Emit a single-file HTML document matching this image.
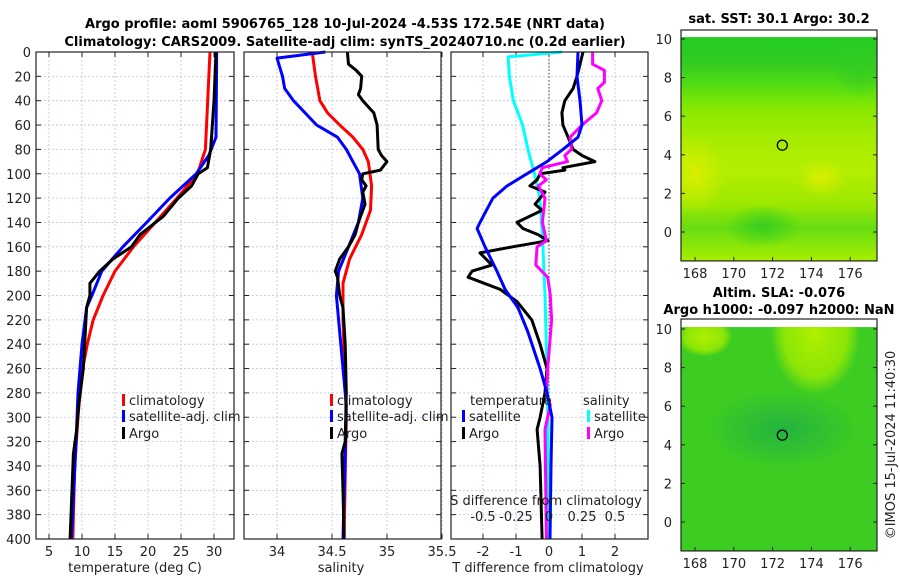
<!DOCTYPE html>
<html><head><meta charset="utf-8"><style>
html,body{margin:0;padding:0;background:#fff;}
svg{display:block;font-family:"DejaVu Sans","Liberation Sans",sans-serif;}
.t{font-size:13px;fill:#222;}
.b{font-size:13px;font-weight:bold;fill:#000;}
</style></head><body>
<svg id="c" width="900" height="580" viewBox="0 0 900 580" xmlns="http://www.w3.org/2000/svg">
<defs>
<linearGradient id="gTop" x1="0" y1="0" x2="0" y2="1">
<stop offset="0" stop-color="#22cc22"/><stop offset="0.12" stop-color="#33cc22"/><stop offset="0.22" stop-color="#55dd11"/>
<stop offset="0.32" stop-color="#88e800"/><stop offset="0.45" stop-color="#a6ec00"/><stop offset="0.6" stop-color="#b4ee00"/>
<stop offset="0.75" stop-color="#9ce800"/><stop offset="0.85" stop-color="#66dd11"/><stop offset="1" stop-color="#a8ee00"/>
</linearGradient>
<radialGradient id="gYel" cx="0.5" cy="0.5" r="0.5"><stop offset="0" stop-color="#ddee00" stop-opacity="0.9"/><stop offset="1" stop-color="#ddee00" stop-opacity="0"/></radialGradient>
<radialGradient id="gGrn" cx="0.5" cy="0.5" r="0.5"><stop offset="0" stop-color="#33cc22" stop-opacity="0.9"/><stop offset="1" stop-color="#33cc22" stop-opacity="0"/></radialGradient>
<radialGradient id="gDk" cx="0.5" cy="0.5" r="0.5"><stop offset="0" stop-color="#22b044" stop-opacity="0.9"/><stop offset="1" stop-color="#22b044" stop-opacity="0"/></radialGradient>
<radialGradient id="gLt" cx="0.5" cy="0.5" r="0.5"><stop offset="0" stop-color="#b0f000" stop-opacity="1"/><stop offset="0.7" stop-color="#a0ec00" stop-opacity="0.8"/><stop offset="1" stop-color="#a0ec00" stop-opacity="0"/></radialGradient>
<clipPath id="clipTop"><rect x="681" y="37" width="196" height="224"/></clipPath>
<clipPath id="clipBot"><rect x="681" y="327" width="196" height="224"/></clipPath>
</defs>
<g id="root"></g>
</svg>
<script>
// ---------- data ----------
const depthClim = [0,80,100,120,140,160,180,200,220,240,260,280,300,340,400];
const tempClim  = [29.4,28.7,27.5,24.4,21.1,17.8,15,13.2,11.7,10.8,10.1,9.7,9.4,8.9,8.6];
const depthSat  = [0,10,70,85,100,120,140,160,180,200,210,240,280,320,400];
const tempSat   = [30.4,30.4,30.3,29.2,27.3,23.3,19.8,16.2,13,11.5,10.7,10,9.4,9.1,8.4];
const depthArgoT= [0,40,80,95,100,110,120,135,150,160,170,180,190,200,210,230,260,290,310,330,400];
const tempArgo  = [30.3,30,29.5,29,27.6,26.6,24.6,22.3,18.8,17.5,14.7,12.7,11.2,11.2,10.7,10.5,10.2,9.5,9.2,8.7,8.2];

const depthSClim= [0,20,40,50,60,70,80,90,110,130,150,170,190,220,300,400];
const salClim   = [34.32,34.35,34.39,34.46,34.57,34.69,34.78,34.83,34.86,34.85,34.77,34.66,34.6,34.6,34.63,34.61];
const depthSSat = [0,5,20,30,40,60,70,80,100,120,140,160,180,200,210,230,260,290,400];
const salSat    = [34.44,34.0,34.05,34.07,34.15,34.36,34.55,34.63,34.75,34.78,34.74,34.65,34.56,34.54,34.55,34.57,34.6,34.63,34.6];
const depthSArgo= [0,10,15,20,30,35,40,50,60,80,85,90,97,100,105,110,115,125,140,150,160,170,180,185,200,210,240,280,320,330,360,400];
const salArgo   = [34.64,34.65,34.72,34.77,34.76,34.74,34.78,34.88,34.91,34.92,34.95,35.0,34.94,34.78,34.77,34.81,34.78,34.8,34.74,34.71,34.65,34.57,34.53,34.55,34.57,34.6,34.62,34.63,34.62,34.59,34.6,34.61];

const depthDS   = [0,4,20,40,60,80,100,120,150,200,260,300,400];
const sDiffSat  = [0.1,-0.31,-0.3,-0.27,-0.2,-0.16,-0.11,-0.07,-0.05,-0.03,-0.015,-0.008,-0.008];
const depthDSA  = [0,10,15,25,30,40,50,60,70,80,85,90,95,100,105,110,120,140,155,160,175,185,200,220,260,280,290,310,400];
const sDiffArgo = [0.33,0.33,0.42,0.42,0.37,0.4,0.36,0.25,0.16,0.17,0.12,0.14,-0.05,-0.07,-0.02,-0.08,-0.03,-0.05,-0.02,-0.09,-0.1,-0.01,0.01,0.02,-0.01,-0.02,0.01,-0.03,-0.02];
const depthDT   = [0,20,40,60,70,80,90,100,110,120,140,145,160,180,195,210,230,260,280,300,340,400];
const tDiffSat  = [0.88,0.85,0.94,1.0,0.88,0.42,-0.06,-0.67,-1.27,-1.7,-2.09,-2.18,-1.94,-1.58,-1.33,-0.94,-0.64,-0.27,-0.06,0.09,0.06,0.03];
const depthDTA  = [0,10,20,30,40,50,60,70,80,85,90,95,97,100,105,110,115,125,130,140,145,150,155,160,165,175,180,185,195,205,220,240,260,280,300,310,340,400];
const tDiffArgo = [1.03,0.94,0.85,0.73,0.48,0.39,0.42,0.58,0.73,1.0,1.39,0.42,0.48,-0.27,-0.36,-0.58,-0.12,-0.42,-0.21,-0.97,-0.79,-0.33,-0.03,-1.1,-2.09,-1.73,-2.33,-2.45,-1.48,-0.97,-0.52,-0.27,-0.06,-0.12,-0.27,-0.36,-0.27,-0.21];

const depthTicks = [0,20,40,60,80,100,120,140,160,180,200,220,240,260,280,300,320,340,360,380,400];
const tempTicks = [5,10,15,20,25,30];
const salTicks = [34,34.5,35,35.5];
const tdTicks = [-2,-1,0,1,2];
const sdTicks = [-0.5,-0.25,0,0.25,0.5];
const lonTicks = [168,170,172,174,176];
const latTicks = [0,2,4,6,8,10];
const argoLon = 172.5, argoLat = 4.5;

// ---------- helpers ----------
const NS="http://www.w3.org/2000/svg";
const root=document.getElementById('root');
function mk(tag,attrs,parent){const e=document.createElementNS(NS,tag);for(const k in attrs)e.setAttribute(k,attrs[k]);(parent||root).appendChild(e);return e;}
function txt(s,x,y,cls,anchor,parent){const e=mk('text',{x:x,y:y,class:cls,'text-anchor':anchor||'middle'},parent);e.textContent=s;return e;}

const Y0=52, Y1=539;
const yD = d => Y0 + (d/400)*(Y1-Y0);
const xT = v => 36 + (v-3.03)*6.6;
const xS = v => 244 + (v-33.7)*110;
const xTD = v => 549 + v*33;
const xSD = v => 549 + v*132;

function panel(x0,x1,name){
  const g=mk('g',{});
  
  
  return g;
}
function gridAndFrame(g,x0,x1,xticks,xf,showY){
  depthTicks.forEach(d=>{
    mk('line',{x1:x0,x2:x1,y1:yD(d),y2:yD(d),stroke:'#b8c4e8','stroke-width':0.8,'stroke-dasharray':'2,2'},g);
    mk('line',{x1:x0,x2:x0+5,y1:yD(d),y2:yD(d),stroke:'#222'},g);
    mk('line',{x1:x1-5,x2:x1,y1:yD(d),y2:yD(d),stroke:'#222'},g);
    if(showY){const t=txt(String(d),31,yD(d)+5,'t','end',g);}
  });
  xticks.forEach(v=>{
    const x=xf(v);
    mk('line',{x1:x,x2:x,y1:Y0,y2:Y1,stroke:'#b8c4e8','stroke-width':0.8,'stroke-dasharray':'2,2'},g);
    mk('line',{x1:x,x2:x,y1:Y1-5,y2:Y1,stroke:'#222'},g);
    mk('line',{x1:x,x2:x,y1:Y0,y2:Y0+5,stroke:'#222'},g);
    const t=txt(String(v),x,556,'t','middle',g);
    
    
  });
}
function frame(g,x0,x1){mk('rect',{x:x0,y:Y0,width:x1-x0,height:Y1-Y0,fill:'none',stroke:'#222','stroke-width':1.2},g);}
function line(g,ds,vs,xf,color,name,w){
  const p=mk('polyline',{points:ds.map((d,i)=>xf(vs[i]).toFixed(1)+','+yD(d).toFixed(1)).join(' '),fill:'none',stroke:color,'stroke-width':w||3,'stroke-linejoin':'round'},g);
  
  
}
function legItem(g,x,y,color,label,name){
  const it=mk('g',{},g);
  
  
  mk('rect',{x:x,y:y-11,width:3,height:12,fill:color},it);
  txt(label,x+7,y,'t','start',it);
}

// ---------- titles ----------
let tt=txt('Argo profile: aoml 5906765_128 10-Jul-2024 -4.53S 172.54E (NRT data)',345,28,'b');


tt=txt('Climatology: CARS2009. Satellite-adj clim: synTS_20240710.nc (0.2d earlier)',345,46,'b');



// ---------- panel 1 temperature ----------
let g=panel(36,234,'temperature-panel');
gridAndFrame(g,36,234,tempTicks,xT,true);
line(g,depthClim,tempClim,xT,'#ff0000','temp-climatology-line');
line(g,depthSat,tempSat,xT,'#0000ff','temp-satellite-line');
line(g,depthArgoT,tempArgo,xT,'#000000','temp-argo-line');
frame(g,36,234);
legItem(g,122,405,'#ff0000','climatology','legend-entry-climatology');
legItem(g,122,421,'#0000ff','satellite-adj. clim','legend-entry-satellite');
legItem(g,122,438,'#000000','Argo','legend-entry-argo');
tt=txt('temperature (deg C)',135,572,'t','middle',g);



// ---------- panel 2 salinity ----------
g=panel(244,441,'salinity-panel');
gridAndFrame(g,244,441,salTicks,xS,false);
line(g,depthSClim,salClim,xS,'#ff0000','sal-climatology-line');
line(g,depthSSat,salSat,xS,'#0000ff','sal-satellite-line');
line(g,depthSArgo,salArgo,xS,'#000000','sal-argo-line');
frame(g,244,441);
legItem(g,330,405,'#ff0000','climatology','legend-entry-climatology');
legItem(g,330,421,'#0000ff','satellite-adj. clim','legend-entry-satellite');
legItem(g,330,438,'#000000','Argo','legend-entry-argo');
tt=txt('salinity',341,572,'t','middle',g);



// ---------- panel 3 differences ----------
g=panel(451,648,'difference-panel');
gridAndFrame(g,451,648,tdTicks,xTD,false);
mk('line',{x1:549,x2:549,y1:Y0,y2:Y1,stroke:'#444','stroke-width':1,'stroke-dasharray':'1.5,2'},g);
line(g,depthDS,sDiffSat,xSD,'#00ffff','sdiff-satellite-line');
line(g,depthDTA,tDiffArgo,xTD,'#000000','tdiff-argo-line');
line(g,depthDSA,sDiffArgo,xSD,'#ff00ff','sdiff-argo-line');
line(g,depthDT,tDiffSat,xTD,'#0000ff','tdiff-satellite-line');
frame(g,451,648);
tt=txt('temperature',470,405,'t','start',g);


tt=txt('salinity',583,405,'t','start',g);


legItem(g,462,421,'#0000ff','satellite','legend-entry-temp-satellite');
legItem(g,462,438,'#000000','Argo','legend-entry-temp-argo');
legItem(g,587,421,'#00ffff','satellite','legend-entry-sal-satellite');
legItem(g,587,438,'#ff00ff','Argo','legend-entry-sal-argo');
tt=txt('S difference from climatology',546,505,'t','middle',g);


sdTicks.forEach(v=>{
  const t=txt(String(v),xSD(v),521,'t','middle',g);
  
  
});
tt=txt('T difference from climatology',548,572,'t','middle',g);



// ---------- maps ----------
const LX0=681, LX1=877;
const xLon = v => 695 + (v-168)*19.4;
function mapPanel(top,lat0,name,clip,fillFn,title1,title2){
  const mg=mk('g',{});
  
  
  const yLat = v => lat0 + (0 - v)*19.3;
  const mapTop=yLat(10.1), bottom=yLat(-1.5);
  const fg=mk('g',{'clip-path':'url(#'+clip+')'},mg);
  fillFn(fg,mapTop,bottom,yLat);
  latTicks.forEach(v=>{
    mk('line',{x1:LX0,x2:LX0+4,y1:yLat(v),y2:yLat(v),stroke:'#222'},mg);
    mk('line',{x1:LX1-4,x2:LX1,y1:yLat(v),y2:yLat(v),stroke:'#222'},mg);
    const t=txt(String(v),672,yLat(v)+5,'t','end',mg);
    
    
  });
  lonTicks.forEach(v=>{
    mk('line',{x1:xLon(v),x2:xLon(v),y1:bottom-4,y2:bottom,stroke:'#222'},mg);
    const t=txt(String(v),xLon(v),bottom+17,'t','middle',mg);
    
    
  });
  mk('rect',{x:LX0,y:top,width:LX1-LX0,height:bottom-top,fill:'none',stroke:'#222','stroke-width':1.2},mg);
  const c=mk('circle',{cx:xLon(argoLon),cy:yLat(argoLat),r:5,fill:'none',stroke:'#000','stroke-width':1.3},mg);
  
  
  title1.forEach((s,i)=>{
    const t=txt(s,779,title2[i],'b','middle',mg);
    
    
  });
}
mapPanel(30,232,'sst-map','clipTop',(mg,mt,bt,yLat)=>{
  mk('rect',{x:LX0,y:mt,width:LX1-LX0,height:bt-mt,fill:'url(#gTop)'},mg);
  mk('ellipse',{cx:695,cy:yLat(3),rx:30,ry:40,fill:'url(#gYel)'},mg);
  mk('ellipse',{cx:xLon(174.5),cy:yLat(2.8),rx:25,ry:20,fill:'url(#gYel)'},mg);
  mk('ellipse',{cx:xLon(171.5),cy:yLat(0.3),rx:38,ry:22,fill:'url(#gGrn)'},mg);
  mk('ellipse',{cx:xLon(176.5),cy:yLat(8.5),rx:28,ry:30,fill:'url(#gGrn)'},mg);
},['sat. SST: 30.1 Argo: 30.2'],[23]);
mapPanel(319,522,'sla-map','clipBot',(mg,mt,bt,yLat)=>{
  mk('rect',{x:LX0,y:mt,width:LX1-LX0,height:bt-mt,fill:'#3ccc22'},mg);
  mk('ellipse',{cx:xLon(174.2),cy:yLat(9.8),rx:45,ry:62,fill:'url(#gLt)'},mg);
  mk('ellipse',{cx:xLon(168.5),cy:yLat(9.6),rx:28,ry:20,fill:'url(#gLt)'},mg);
  mk('ellipse',{cx:xLon(172.5),cy:yLat(4.8),rx:75,ry:38,fill:'url(#gDk)'},mg);
},['Altim. SLA: -0.076','Argo h1000: -0.097 h2000: NaN'],[297,314]);

tt=mk('text',{x:0,y:0,class:'t','text-anchor':'middle',transform:'translate(895,445) rotate(-90)'});
tt.textContent='©IMOS 15-Jul-2024 11:40:30';


</script>
</body></html>
